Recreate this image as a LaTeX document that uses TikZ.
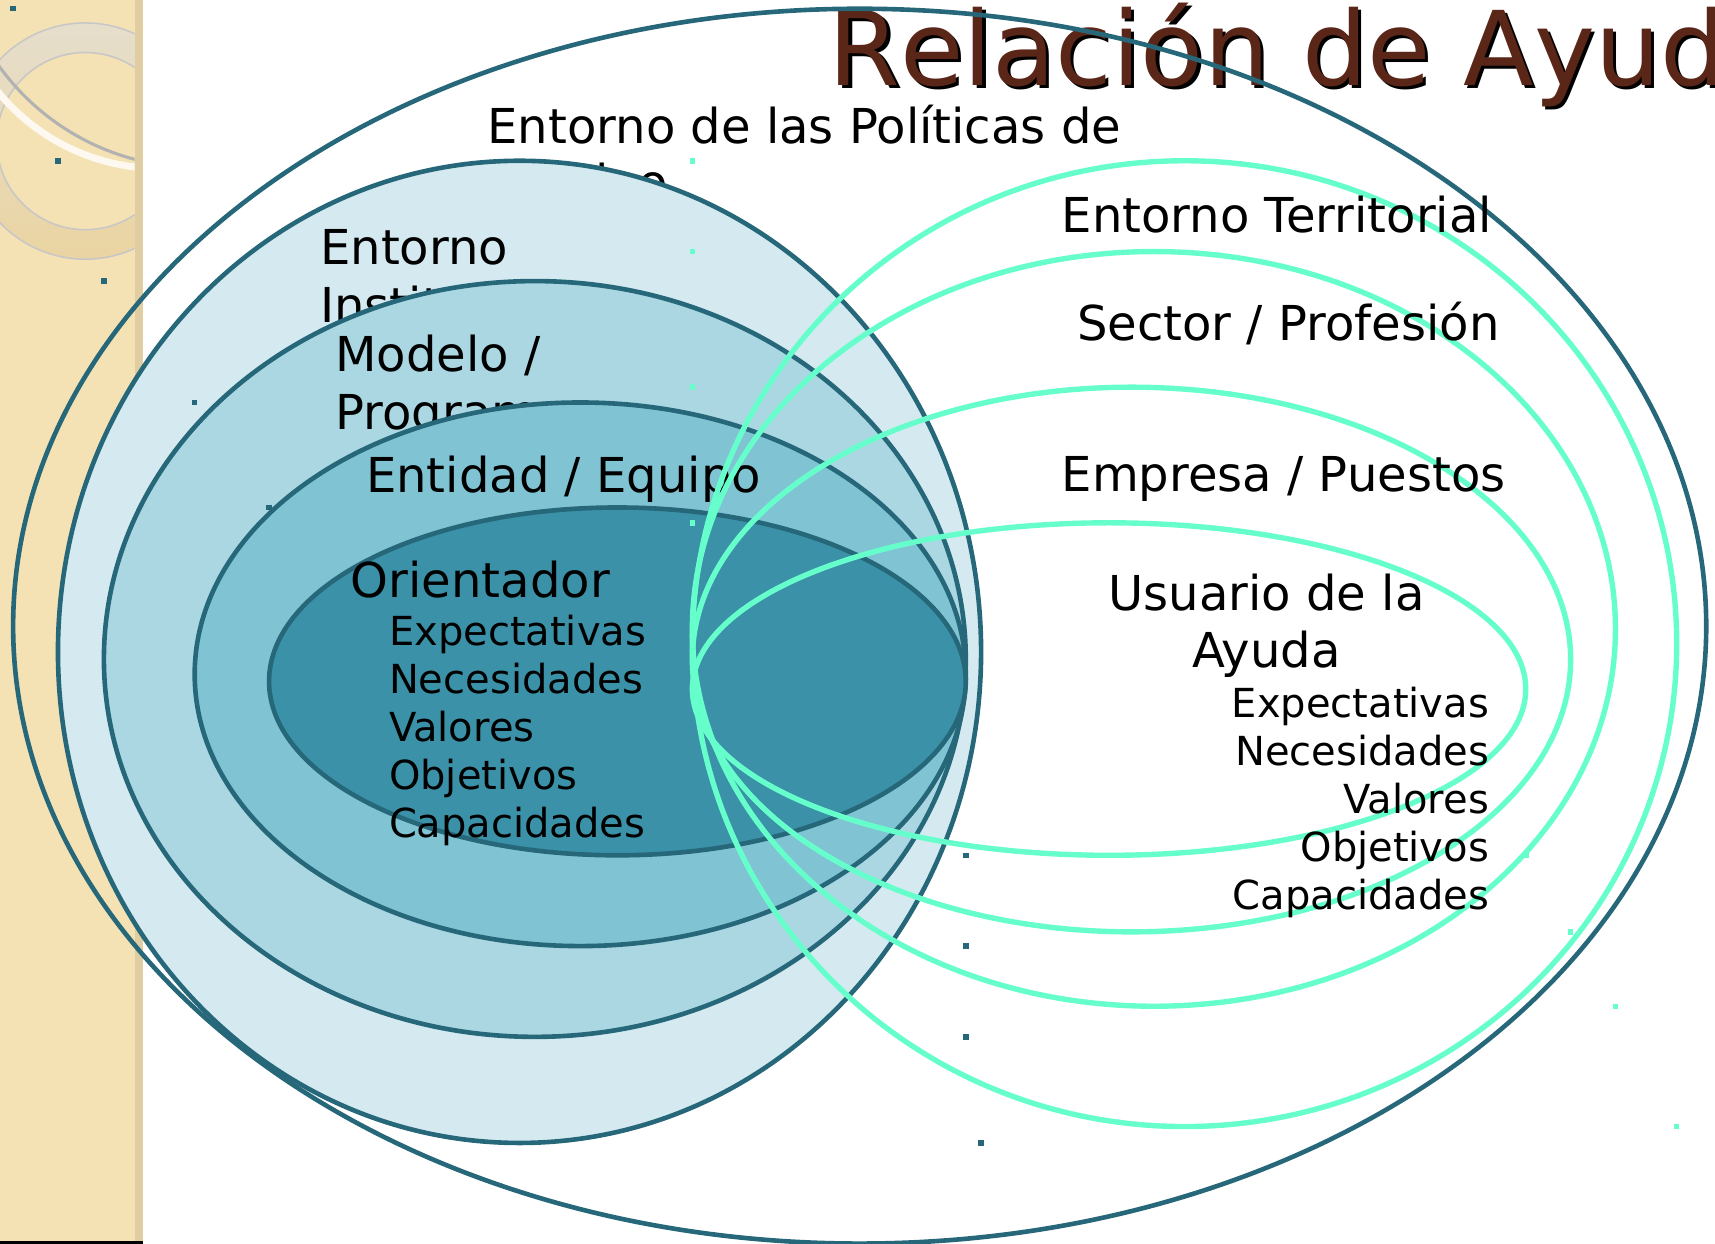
\documentclass[tikz,border=0pt]{standalone}
\usepackage{fontspec}
\setmainfont{DejaVu Sans}
\newfontfamily\titlefont{DejaVu Sans}[Kerning=Off]
\usepackage{xcolor}

\definecolor{ringline}{RGB}{38,104,122}
\definecolor{greenring}{RGB}{102,255,204}
\definecolor{blueA}{RGB}{212,234,240}
\definecolor{blueB}{RGB}{170,215,226}
\definecolor{blueC}{RGB}{128,195,211}
\definecolor{blueD}{RGB}{58,145,168}
\definecolor{titlebrown}{RGB}{90,38,24}
\definecolor{sand}{RGB}{244,226,180}
\definecolor{sandedge}{RGB}{224,206,162}
\definecolor{sandtop}{RGB}{230,222,204}
\definecolor{sandbottom}{RGB}{234,212,162}

\tikzset{
  ring/.style={draw=ringline, line width=1.2pt},
  greenloop/.style={draw=greenring, line width=1.4pt},
  bigtext/.style={font=\fontsize{12.5}{15}\selectfont, inner sep=0pt},
  listtext/.style={font=\fontsize{10.4}{12.5}\selectfont, inner sep=0pt},
  titletext/.style={font=\titlefont\fontsize{26.8}{30}\selectfont, inner sep=0pt, anchor=base west}
}

\begin{document}
\begin{tikzpicture}[x=0.01cm, y=-0.01cm]

    \clip (0, 0) rectangle (1568, 1137);

    \fill[sand] (0, 0) rectangle (131, 1137);
    \fill[sandedge] (123, 0) rectangle (131, 1137);
    \begin{scope}
        \clip (0, 0) rectangle (123, 1137);
        \shade[top color=sandtop, bottom color=sandbottom, even odd rule]
            (78, 129) circle [radius=108] (78, 129) circle [radius=81];
        \draw[black!22] (78, 129) circle [radius=108] (78, 129) circle [radius=81];
        \draw[black!30, line width=0.8pt] (180, -70) circle [radius=223];
        \draw[white!80!sand, line width=1.8pt] (146, -37) circle [radius=191];
    \end{scope}
    \draw[black, line width=0.6pt] (0, 1136) -- (131, 1136);

    \node[titletext, text=black] (titleshadow) at (760, 81) {Relación de Ayuda};
    \node[titletext, text=titlebrown] (title) at (757, 78) {Relación de Ayuda};

    \draw[ring] (786, 572.5) ellipse [x radius=774, y radius=564.5];
    \node[bigtext, anchor=base west] (politicas) at (445, 131) {Entorno de las Políticas de};
    \node[bigtext, anchor=base west] (politicasb) at (445, 182) {Empleo};

    \filldraw[ring, fill=blueA] (475, 596) ellipse [x radius=422, y radius=449];
    \node[bigtext, anchor=base west] (institucional) at (292, 242) {Entorno};
    \node[bigtext, anchor=base west] (institucionalb) at (292, 295) {Institucional};

    \filldraw[ring, fill=blueB] (489, 602.5) ellipse [x radius=394, y radius=345.5];
    \node[bigtext, anchor=base west] (modelo) at (306, 340) {Modelo /};
    \node[bigtext, anchor=base west] (modelob) at (306, 393) {Programa};

    \filldraw[ring, fill=blueC] (530.5, 616.5) ellipse [x radius=352.5, y radius=248.5];
    \node[bigtext, anchor=base west] (entidad) at (334, 450) {Entidad / Equipo};

    \filldraw[ring, fill=blueD] (564.5, 623) ellipse [x radius=318.5, y radius=159];
    \node[bigtext, anchor=base west] (orientador) at (320, 546) {Orientador};
    \foreach \word [count=\k] in {Expectativas, Necesidades, Valores, Objetivos, Capacidades}
        \node[listtext, anchor=base west] (orient\k) at (355, 546 + 44*\k) {\word};

    \draw[greenloop] (1083, 588.5) ellipse [x radius=450, y radius=441.5];
    \draw[greenloop] (1055, 575) ellipse [x radius=422, y radius=345];
    \draw[greenloop] (1034.5, 603) ellipse [x radius=401.5, y radius=249];
    \draw[greenloop] (1014, 630) ellipse [x radius=381, y radius=152];

    \node[bigtext, anchor=base west] (territorial) at (970, 213) {Entorno Territorial};
    \node[bigtext, anchor=base west] (sector) at (984, 311) {Sector / Profesión};
    \node[bigtext, anchor=base west] (empresa) at (970, 449) {Empresa / Puestos};
    \node[bigtext, anchor=base] (usuario) at (1158, 558) {Usuario de la};
    \node[bigtext, anchor=base] (usuariob) at (1158, 610) {Ayuda};
    \foreach \word [count=\k] in {Expectativas, Necesidades, Valores, Objetivos, Capacidades}
        \node[listtext, anchor=base east] (user\k) at (1362, 612 + 44*\k) {\word};

    \foreach \hx/\hy in {12/8, 53/147, 95/257, 178/368, 246/464, 883/782, 883/865, 883/948, 897/1045}
        \fill[ringline] (\hx - 2.5, \hy - 2.5) rectangle +(5, 5);
    \foreach \hx/\hy in {633/147, 633/230, 633/354, 633/478, 1395/782, 1436/852, 1477/920, 1533/1030}
        \fill[greenring] (\hx - 2.5, \hy - 2.5) rectangle +(5, 5);

\end{tikzpicture}
\end{document}
